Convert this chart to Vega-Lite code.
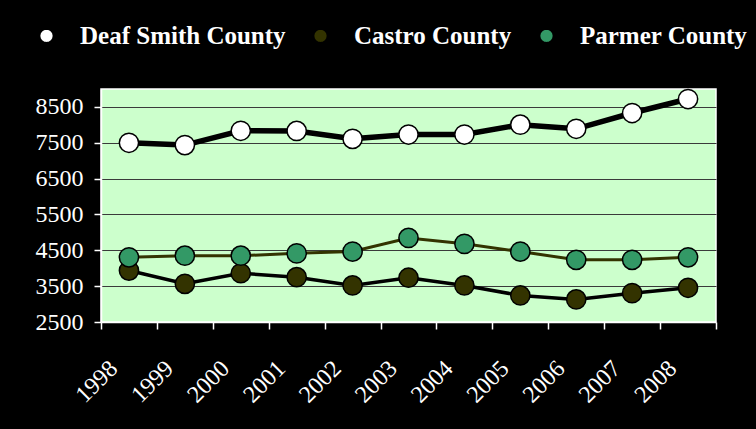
{
  "$schema": "https://vega.github.io/schema/vega-lite/v6.json",
  "width": 615,
  "height": 233,
  "autosize": {"type": "none"},
  "padding": {"left": 101, "top": 89, "right": 40, "bottom": 107},
  "background": "black",
  "config": {
    "view": {"fill": "#CCFFCC", "stroke": "white", "strokeWidth": 1.5},
    "font": "Liberation Serif"
  },
  "data": {
    "values": [
      {"year": "1998", "county": "Deaf Smith County", "value": 7500},
      {"year": "1999", "county": "Deaf Smith County", "value": 7435},
      {"year": "2000", "county": "Deaf Smith County", "value": 7835},
      {"year": "2001", "county": "Deaf Smith County", "value": 7830},
      {"year": "2002", "county": "Deaf Smith County", "value": 7610},
      {"year": "2003", "county": "Deaf Smith County", "value": 7730},
      {"year": "2004", "county": "Deaf Smith County", "value": 7730},
      {"year": "2005", "county": "Deaf Smith County", "value": 8005},
      {"year": "2006", "county": "Deaf Smith County", "value": 7890},
      {"year": "2007", "county": "Deaf Smith County", "value": 8330},
      {"year": "2008", "county": "Deaf Smith County", "value": 8720},
      {"year": "1998", "county": "Castro County", "value": 3935},
      {"year": "1999", "county": "Castro County", "value": 3565},
      {"year": "2000", "county": "Castro County", "value": 3860},
      {"year": "2001", "county": "Castro County", "value": 3750},
      {"year": "2002", "county": "Castro County", "value": 3520},
      {"year": "2003", "county": "Castro County", "value": 3735},
      {"year": "2004", "county": "Castro County", "value": 3520},
      {"year": "2005", "county": "Castro County", "value": 3240},
      {"year": "2006", "county": "Castro County", "value": 3130},
      {"year": "2007", "county": "Castro County", "value": 3305},
      {"year": "2008", "county": "Castro County", "value": 3455},
      {"year": "1998", "county": "Parmer County", "value": 4305},
      {"year": "1999", "county": "Parmer County", "value": 4350},
      {"year": "2000", "county": "Parmer County", "value": 4350},
      {"year": "2001", "county": "Parmer County", "value": 4415},
      {"year": "2002", "county": "Parmer County", "value": 4465},
      {"year": "2003", "county": "Parmer County", "value": 4845},
      {"year": "2004", "county": "Parmer County", "value": 4680},
      {"year": "2005", "county": "Parmer County", "value": 4465},
      {"year": "2006", "county": "Parmer County", "value": 4235},
      {"year": "2007", "county": "Parmer County", "value": 4235},
      {"year": "2008", "county": "Parmer County", "value": 4305}
    ]
  },
  "encoding": {
    "x": {
      "field": "year",
      "type": "ordinal",
      "scale": {"type": "band", "paddingInner": 0, "paddingOuter": 0},
      "axis": {
        "title": null,
        "labelAngle": -45,
        "labelFont": "Liberation Serif",
        "labelFontSize": 24,
        "labelColor": "white",
        "labelOffset": -24,
        "labelPadding": 27,
        "tickBand": "extent",
        "tickColor": "white",
        "tickSize": 7,
        "tickWidth": 1.5,
        "domainColor": "white",
        "domainWidth": 1.5,
        "grid": false
      }
    },
    "y": {
      "field": "value",
      "type": "quantitative",
      "scale": {"domain": [2500, 9000], "nice": false, "zero": false},
      "axis": {
        "title": null,
        "values": [2500, 3500, 4500, 5500, 6500, 7500, 8500],
        "format": "d",
        "labelFont": "Liberation Serif",
        "labelFontSize": 24,
        "labelColor": "white",
        "labelPadding": 11,
        "tickColor": "white",
        "tickSize": 7,
        "tickWidth": 1.5,
        "domainColor": "white",
        "domainWidth": 1.5,
        "grid": true,
        "gridColor": "#3a3a3a",
        "gridWidth": 1.2
      }
    }
  },
  "layer": [
    {
      "mark": {"type": "line"},
      "encoding": {
        "detail": {"field": "county"},
        "stroke": {
          "field": "county",
          "type": "nominal",
          "scale": {"domain": ["Castro County", "Deaf Smith County", "Parmer County"], "range": ["black", "black", "#333300"]},
          "legend": null
        },
        "strokeWidth": {
          "field": "county",
          "type": "nominal",
          "scale": {"type": "ordinal", "domain": ["Parmer County", "Castro County", "Deaf Smith County"], "range": [3, 3.5, 5.5]},
          "legend": null
        }
      }
    },
    {
      "mark": {"type": "point", "filled": true, "size": 370, "stroke": "black", "strokeWidth": 1.5, "opacity": 1},
      "encoding": {
        "fill": {
          "field": "county",
          "type": "nominal",
          "scale": {"domain": ["Deaf Smith County", "Castro County", "Parmer County"], "range": ["white", "#333300", "#339966"]},
          "legend": {
            "title": null,
            "orient": "none",
            "direction": "horizontal",
            "legendX": -88,
            "legendY": -87,
            "symbolType": "M-1,0L-0.24,0M0.24,0L1,0M0.24,0L0.2217,0.0918L0.1697,0.1697L0.0918,0.2217L0,0.24L-0.0918,0.2217L-0.1697,0.1697L-0.2217,0.0918L-0.24,0L-0.2217,-0.0918L-0.1697,-0.1697L-0.0918,-0.2217L0,-0.24L0.0918,-0.2217L0.1697,-0.1697L0.2217,-0.0918Z",
            "symbolSize": 4096,
            "symbolStrokeWidth": 3,
            "symbolOpacity": 1,
            "labelFont": "Liberation Serif",
            "labelFontSize": 25,
            "labelFontWeight": "bold",
            "labelColor": "white",
            "labelLimit": 400,
            "labelOffset": 0,
            "columnPadding": -4,
            "encode": {
              "symbols": {
                "shape": {"value": "M-1,0L-0.24,0M0.24,0L1,0M0.24,0L0.2217,0.0918L0.1697,0.1697L0.0918,0.2217L0,0.24L-0.0918,0.2217L-0.1697,0.1697L-0.2217,0.0918L-0.24,0L-0.2217,-0.0918L-0.1697,-0.1697L-0.0918,-0.2217L0,-0.24L0.0918,-0.2217L0.1697,-0.1697L0.2217,-0.0918Z"},
                "size": {"value": 4096},
                "stroke": {"value": {"expr": "datum.value === 'Parmer County' ? '#333300' : 'black'"}},
                "strokeWidth": {"value": 3},
                "opacity": {"value": 1}
              }
            }
          }
        }
      }
    }
  ]
}
